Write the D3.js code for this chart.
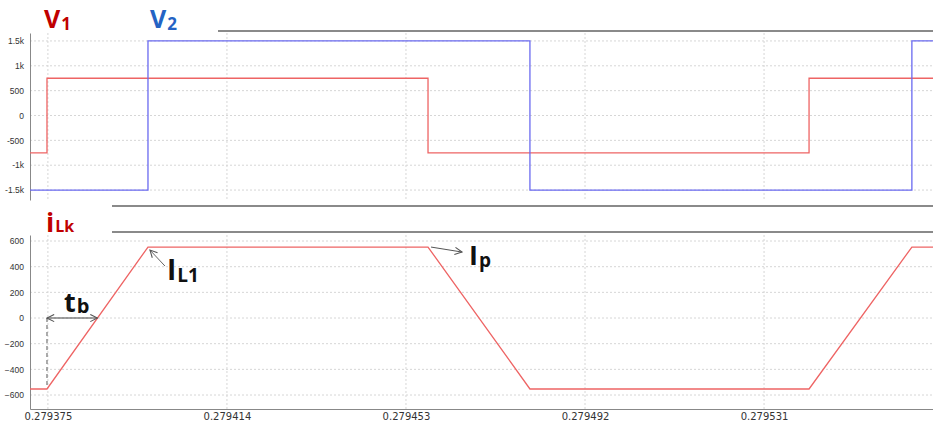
<!DOCTYPE html>
<html>
<head>
<meta charset="utf-8">
<script src="https://cdn.jsdelivr.net/npm/d3@7"></script>
<style>
  body { margin: 0; background: #fff; }
  .axis text { font-family: "Liberation Sans", Arial, sans-serif; fill: #333; }
  .axis path { stroke: #888; }
  .lbl { font-family: "Open Sans", sans-serif; font-weight: 700; }
</style>
</head>
<body>
<div id="chart"></div>
<script>
// time axis
const xDomain = [0.2793711, 0.2795678];
const tickTimes = [0.279375, 0.279414, 0.279453, 0.279492, 0.279531];
const tickLabels = ["0.279375", "0.279414", "0.279453", "0.279492", "0.279531"];

// top panel: voltages (step)
const vTicks = [-1500, -1000, -500, 0, 500, 1000, 1500];
const vTickLabels = ["-1.5k", "-1k", "-500", "0", "500", "1k", "1.5k"];
const v1Times = [0.2793711, 0.2793748, 0.2794578, 0.2795408, 0.2795678];
const v1Vals = [-750, 750, -750, 750, 750];
const v2Times = [0.2793711, 0.2793968, 0.2794800, 0.2795632, 0.2795678];
const v2Vals = [-1500, 1500, -1500, 1500, 1500];

// bottom panel: leakage current
const iTicks = [-600, -400, -200, 0, 200, 400, 600];
const iTimes = [0.2793711, 0.2793748, 0.2793968, 0.2794578, 0.2794800, 0.2795408, 0.2795632, 0.2795678];
const iVals = [-553, -553, 553, 553, -553, -553, 553, 553];

const W = 933, H = 425;
const svg = d3.select("#chart").append("svg")
  .attr("width", W).attr("height", H);

const defs = svg.append("defs");
defs.append("marker")
  .attr("id", "head")
  .attr("viewBox", "0 0 10 10")
  .attr("refX", 9).attr("refY", 5)
  .attr("markerWidth", 9).attr("markerHeight", 9)
  .attr("markerUnits", "userSpaceOnUse")
  .attr("orient", "auto-start-reverse")
  .append("path")
  .attr("d", "M1,1 L9,5 L1,9")
  .attr("fill", "none")
  .attr("stroke", "#555")
  .attr("stroke-width", 1.2);

const x = d3.scaleLinear().domain(xDomain).range([30, 933]);
const yV = d3.scaleLinear().domain([-1700, 1660]).range([200, 33]);
const yI = d3.scaleLinear().domain([-709, 647]).range([409, 235]);

// grid
function grid(yScale, ticks) {
  const g = svg.append("g");
  g.selectAll(".h").data(ticks).enter().append("line")
    .attr("x1", 30).attr("x2", W)
    .attr("y1", d => yScale(d)).attr("y2", d => yScale(d))
    .attr("stroke", "#d6d6d6").attr("stroke-dasharray", "2,2");
  g.selectAll(".v").data(tickTimes).enter().append("line")
    .attr("x1", d => x(d)).attr("x2", d => x(d))
    .attr("y1", yScale.range()[1]).attr("y2", yScale.range()[0])
    .attr("stroke", "#d6d6d6").attr("stroke-dasharray", "2,2");
}
grid(yV, vTicks);
grid(yI, iTicks);

// panel separator lines
svg.append("line").attr("x1", 218).attr("x2", W).attr("y1", 31).attr("y2", 31)
  .attr("stroke", "#8a8a8a").attr("stroke-width", 2);
svg.append("line").attr("x1", 112).attr("x2", W).attr("y1", 206).attr("y2", 206)
  .attr("stroke", "#8a8a8a").attr("stroke-width", 2);
svg.append("line").attr("x1", 112).attr("x2", W).attr("y1", 232).attr("y2", 232)
  .attr("stroke", "#8a8a8a").attr("stroke-width", 2);

// axes
svg.append("g").attr("class", "axis")
  .attr("transform", "translate(30,0)")
  .call(d3.axisLeft(yV).tickValues(vTicks).tickSize(0).tickPadding(6)
    .tickFormat((d, i) => vTickLabels[i]))
  .call(g => g.selectAll("text").style("font-size", "8.5px"));

svg.append("g").attr("class", "axis")
  .attr("transform", "translate(30,0)")
  .call(d3.axisLeft(yI).tickValues(iTicks).tickSize(0).tickPadding(6))
  .call(g => g.selectAll("text").style("font-size", "8.5px"));

svg.append("g").attr("class", "axis")
  .attr("transform", "translate(0,409)")
  .call(d3.axisBottom(x).tickValues(tickTimes).tickSize(0).tickPadding(4)
    .tickFormat((d, i) => tickLabels[i]))
  .call(g => g.selectAll("text").style("font-size", "10px")
    .style("font-family", "'DejaVu Sans', sans-serif").attr("fill", "#222"));

// traces
const stepLine = (yScale) => d3.line()
  .x(d => x(d[0])).y(d => yScale(d[1])).curve(d3.curveStepAfter);

svg.append("path")
  .datum(d3.zip(v1Times, v1Vals))
  .attr("d", stepLine(yV))
  .attr("fill", "none").attr("stroke", "#ee6464").attr("stroke-width", 1.3);

svg.append("path")
  .datum(d3.zip(v2Times, v2Vals))
  .attr("d", stepLine(yV))
  .attr("fill", "none").attr("stroke", "#6a6af0").attr("stroke-width", 1.3);

svg.append("path")
  .datum(d3.zip(iTimes, iVals))
  .attr("d", d3.line().x(d => x(d[0])).y(d => yI(d[1])))
  .attr("fill", "none").attr("stroke", "#ee6464").attr("stroke-width", 1.3);

// annotations
const tStart = iTimes[1], tPeak = iTimes[2], tFall = iTimes[3];
const tZero = tStart + (tPeak - tStart) * (0 - iVals[1]) / (iVals[2] - iVals[1]);

// tb dashed marker and double arrow
svg.append("line")
  .attr("x1", x(tStart)).attr("x2", x(tStart))
  .attr("y1", yI(0)).attr("y2", yI(-540))
  .attr("stroke", "#777").attr("stroke-width", 1.2).attr("stroke-dasharray", "4,3");
svg.append("line")
  .attr("x1", x(tStart)).attr("x2", x(tZero))
  .attr("y1", yI(0)).attr("y2", yI(0))
  .attr("stroke", "#444").attr("stroke-width", 1.2)
  .attr("marker-start", "url(#head)").attr("marker-end", "url(#head)");

// IL1 arrow
svg.append("line")
  .attr("x1", x(tPeak) + 17).attr("x2", x(tPeak) + 2)
  .attr("y1", yI(iVals[2]) + 19).attr("y2", yI(iVals[2]) + 3)
  .attr("stroke", "#666").attr("stroke-width", 1)
  .attr("marker-end", "url(#head)");

// Ip arrow
svg.append("line")
  .attr("x1", x(tFall) + 3).attr("x2", x(tFall) + 34)
  .attr("y1", yI(iVals[3])).attr("y2", yI(iVals[3]) + 5)
  .attr("stroke", "#555").attr("stroke-width", 1)
  .attr("marker-end", "url(#head)");

// labels
function label(xp, yp, main, sub, size, subSize, color, subDy) {
  const t = svg.append("text").attr("class", "lbl")
    .attr("x", xp).attr("y", yp).attr("fill", color);
  t.append("tspan").style("font-size", size + "px").text(main);
  t.append("tspan").style("font-size", subSize + "px").attr("dx", 1).attr("dy", subDy).text(sub);
}
label(44, 28, "V", "1", 25, 17, "#c00000", 2);
label(150, 28, "V", "2", 25, 17, "#2463c4", 2);
label(46, 232, "i", "Lk", 27, 16, "#c00000", 0);
label(167, 280, "I", "L1", 28, 19, "#111", 2);
label(469, 265, "I", "p", 27, 19, "#111", 2);
label(64, 312, "t", "b", 27, 20, "#111", 1);
</script>
</body>
</html>
